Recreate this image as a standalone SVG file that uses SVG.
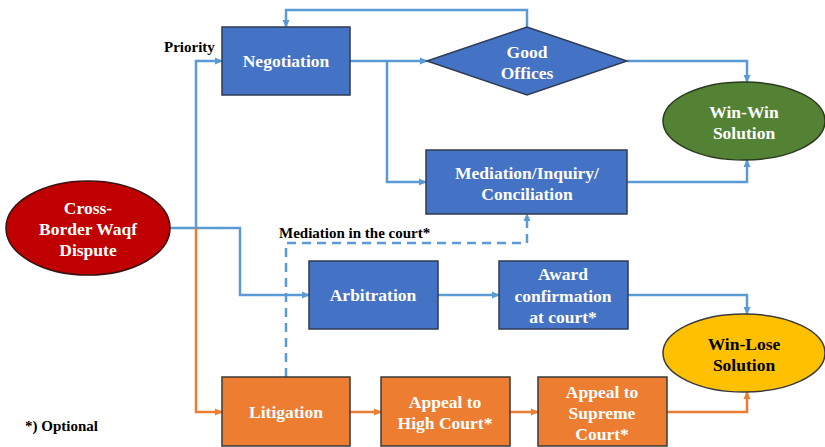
<svg xmlns="http://www.w3.org/2000/svg" width="825" height="447" viewBox="0 0 825 447">
<defs>
<marker id="ab" markerWidth="8" markerHeight="8" refX="7" refY="4" orient="auto" markerUnits="userSpaceOnUse"><path d="M0,0.5 L8,4 L0,7.5 Z" fill="#5B9BD5"/></marker>
<marker id="ao" markerWidth="8" markerHeight="8" refX="7" refY="4" orient="auto" markerUnits="userSpaceOnUse"><path d="M0,0.5 L8,4 L0,7.5 Z" fill="#ED7D31"/></marker>
</defs>
<style>
.nb{fill:#4472C4;stroke:#2F3B52;stroke-width:1.5}
.no{fill:#ED7D31;stroke:#3A3A3A;stroke-width:1.5}
.t{font-weight:bold;font-size:17.5px;fill:#fff;text-anchor:middle}
.k{font-weight:bold;font-size:15px;fill:#000}
.cb{fill:none;stroke:#5B9BD5;stroke-width:2.5;marker-end:url(#ab)}
.cbn{fill:none;stroke:#5B9BD5;stroke-width:2.5}
.co{fill:none;stroke:#ED7D31;stroke-width:2.5;marker-end:url(#ao)}
.con{fill:none;stroke:#ED7D31;stroke-width:2.5}
</style>
<g id="connectors">
<path class="cb" d="M527,27 V10 H286 V27"/>
<path class="cbn" d="M170,228 H196"/>
<path class="cb" d="M196,228 V61 H222"/>
<path class="cb" d="M196,228 H240 V295 H309"/>
<path class="co" d="M196,228 V412 H222"/>
<path class="cb" d="M350,61 H427"/>
<path class="cb" d="M387,61 V182 H426"/>
<path class="cb" d="M627,61 H747 V82"/>
<path class="cb" d="M627,182 H747 V160"/>
<path class="cb" d="M286,377 V243 H527 V214" stroke-dasharray="9,6"/>
<path class="cb" d="M438,295 H499"/>
<path class="cb" d="M628,295 H747 V314"/>
<path class="co" d="M350,412 H381"/>
<path class="co" d="M510,412 H538"/>
<path class="co" d="M667,412 H747 V392"/>
</g>
<g font-family="Liberation Serif, Times New Roman, serif">
<g id="dispute"><ellipse cx="88" cy="228" rx="82" ry="47" fill="#C00000" stroke="#3A1010" stroke-width="1.5"/>
<text class="t" x="88" y="214">Cross-</text><text class="t" x="88" y="235">Border Waqf</text><text class="t" x="88" y="256">Dispute</text></g>
<g id="negotiation"><rect class="nb" x="222" y="27" width="128" height="68"/><text class="t" x="286" y="67">Negotiation</text></g>
<g id="goodoffices"><polygon class="nb" points="427,61 527,27 627,61 527,95"/><text class="t" x="527" y="58">Good</text><text class="t" x="527" y="79">Offices</text></g>
<g id="winwin"><ellipse cx="744" cy="121" rx="81" ry="39" fill="#548235" stroke="#2A3A1E" stroke-width="1.5"/><text class="t" x="744" y="118">Win-Win</text><text class="t" x="744" y="139">Solution</text></g>
<g id="mediation"><rect class="nb" x="426" y="150" width="201" height="64"/><text class="t" x="527" y="179">Mediation/Inquiry/</text><text class="t" x="527" y="200">Conciliation</text></g>
<g id="arbitration"><rect class="nb" x="309" y="261" width="129" height="68"/><text class="t" x="373" y="301">Arbitration</text></g>
<g id="award"><rect class="nb" x="499" y="261" width="129" height="68"/><text class="t" x="563" y="280">Award</text><text class="t" x="563" y="302">confirmation</text><text class="t" x="563" y="323">at court*</text></g>
<g id="winlose"><ellipse cx="744" cy="353" rx="81" ry="39" fill="#FFC000" stroke="#3A3A3A" stroke-width="1.5"/><text class="t" x="744" y="350" style="fill:#000">Win-Lose</text><text class="t" x="744" y="371" style="fill:#000">Solution</text></g>
<g id="litigation"><rect class="no" x="222" y="377" width="128" height="69"/><text class="t" x="286" y="418">Litigation</text></g>
<g id="highcourt"><rect class="no" x="381" y="377" width="129" height="69"/><text class="t" x="445" y="408">Appeal to</text><text class="t" x="445" y="429">High Court*</text></g>
<g id="supreme"><rect class="no" x="538" y="377" width="129" height="69"/><text class="t" x="602" y="398">Appeal to</text><text class="t" x="602" y="419">Supreme</text><text class="t" x="602" y="440">Court*</text></g>
<g id="labels">
<text class="k" x="164" y="52">Priority</text>
<text class="k" x="279" y="238">Mediation in the court*</text>
<text class="k" x="25" y="431">*) Optional</text>
</g>
</g>
</svg>
